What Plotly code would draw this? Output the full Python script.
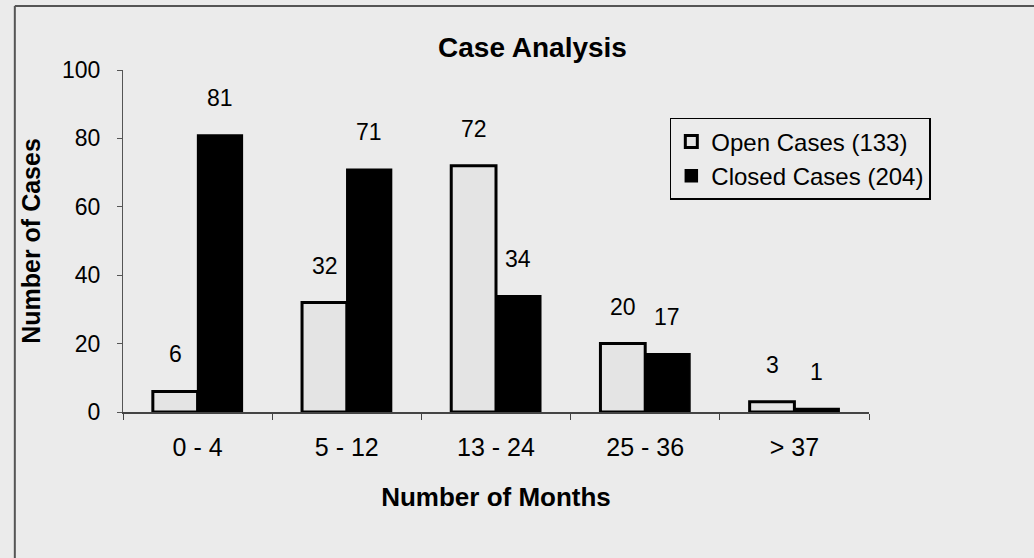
import plotly.graph_objects as go

categories = ["0 - 4", "5 - 12", "13 - 24", "25 - 36", "> 37"]
open_cases = [6, 32, 72, 20, 3]
closed_cases = [81, 71, 34, 17, 1]
y_ticks = [0, 20, 40, 60, 80, 100]

bg = "#ebebeb"
font = "Liberation Sans, Arial, sans-serif"

fig = go.Figure()
fig.add_trace(go.Bar(
    name="Open Cases (133)", x=categories, y=open_cases,
    marker=dict(color="#e4e4e4", line=dict(color="black", width=3)),
))
fig.add_trace(go.Bar(
    name="Closed Cases (204)", x=categories, y=closed_cases,
    marker=dict(color="black", line=dict(color="black", width=1.5)),
))

annotations = []
for xs, vals in ((-22, open_cases), (22, closed_cases)):
    for c, v in zip(categories, vals):
        annotations.append(dict(
            x=c, y=v, xref="x", yref="y", text=str(v), showarrow=False,
            xshift=xs, yshift=37, font=dict(size=23, color="black", family=font),
        ))

fig.update_layout(
    width=1034, height=558,
    paper_bgcolor=bg, plot_bgcolor=bg,
    margin=dict(l=123, r=165, t=70, b=146),
    barmode="group", bargap=0.4, bargroupgap=0,
    font=dict(family=font, size=23, color="black"),
    title=dict(text="<b>Case Analysis</b>", x=0.515, xanchor="center",
               y=0.916, yanchor="middle", font=dict(size=28, family=font)),
    showlegend=True,
    legend=dict(x=0.733, y=0.86, xanchor="left", yanchor="top",
                bgcolor="rgba(0,0,0,0)", bordercolor="black", borderwidth=1.5,
                font=dict(size=24, family=font), itemwidth=30,
                tracegroupgap=0),
    annotations=annotations,
    shapes=[
        dict(type="line", xref="paper", yref="paper", x0=-0.145, x1=1.3,
             y0=1.187, y1=1.187, line=dict(color="#555", width=2)),
        dict(type="line", xref="paper", yref="paper", x0=-0.145, x1=-0.145,
             y0=1.187, y1=-0.43, line=dict(color="#555", width=2)),
    ],
)
fig.update_xaxes(
    showline=True, linecolor="#444", linewidth=1.5,
    ticks="outside", tickson="boundaries", ticklen=6, tickcolor="#444",
    showgrid=False, tickfont=dict(size=25), ticklabelstandoff=12,
    title=dict(text="<b>Number of Months</b>", font=dict(size=26), standoff=28),
)
fig.update_yaxes(
    range=[0, 100], tickvals=y_ticks, showline=True, linecolor="#555",
    linewidth=1.2, ticks="outside", ticklen=5, tickcolor="#555",
    showgrid=False, zeroline=False, tickfont=dict(size=23), ticklabelstandoff=12,
    title=dict(text="<b>Number of Cases</b>", font=dict(size=25), standoff=14),
)

fig.write_html(
    "out.html",
    config={"displayModeBar": False},
    post_script="document.body.style.margin='0';document.body.style.background='#ebebeb';",
)
